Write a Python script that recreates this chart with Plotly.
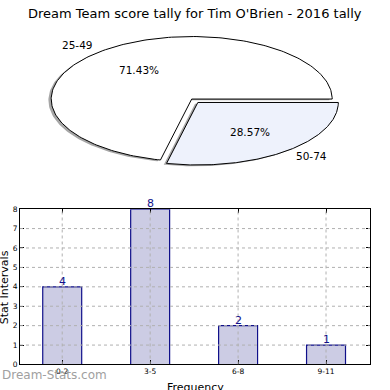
import numpy as np
import plotly.graph_objects as go

# ---------------- data ----------------
title_text = "Dream Team score tally for Tim O'Brien - 2016 tally"
pie_labels = ["25-49", "50-74"]
pie_values = [5, 2]
pie_colors = ["#ffffff", "#eef2fc"]
pie_explode = [0.0, 0.07]

bar_categories = ["0-2", "3-5", "6-8", "9-11"]
bar_values = [4, 8, 2, 1]
y_tick_values = [0, 1, 2, 3, 4, 5, 6, 7, 8]
y_title = "Stat Intervals"
x_title = "Frequency"
watermark = "Dream-Stats.com"

# ---------------- layout helpers ----------------
W = H = 390
FONT = "DejaVu Sans"
NAVY = "#10108a"


def px(x):
    return x / W


def py(y):
    return 1 - y / H


fig = go.Figure()

# ---------------- bar chart ----------------
bar_x = list(range(len(bar_categories)))
fig.add_trace(go.Bar(
    x=bar_x, y=bar_values, width=0.443,
    marker=dict(color="rgb(204,204,228)", line=dict(color=NAVY, width=1.2)),
    showlegend=False, hoverinfo="skip",
    xaxis="x", yaxis="y",
))

# dotted grid drawn above bars
grid = dict(color="#b0b0b0", width=1, dash="dot")
for yv in y_tick_values[1:-1]:
    fig.add_shape(type="line", xref="x", yref="y", x0=-0.48, x1=3.5, y0=yv, y1=yv,
                  line=grid, layer="above")
for xv in bar_x:
    fig.add_shape(type="line", xref="x", yref="y", x0=xv, x1=xv, y0=0, y1=8,
                  line=grid, layer="above")

# ---------------- pie (elliptical, matplotlib style) ----------------
cx, cy, rx, ry = 191.7, 97.3, 140.5, 64.0
total = sum(pie_values)
start = 0.0
shadow_dx, shadow_dy = -2.8, 1.3
slices = []
for lab, val, col, ex in zip(pie_labels, pie_values, pie_colors, pie_explode):
    frac = val / total
    a0, a1 = start, start + frac * 2 * np.pi
    mid = (a0 + a1) / 2
    ox, oy = ex * rx * np.cos(mid), -ex * ry * np.sin(mid)
    t = np.linspace(a0, a1, 200)
    xs = np.concatenate([[cx + ox], cx + ox + rx * np.cos(t), [cx + ox]])
    ys = np.concatenate([[cy + oy], cy + oy - ry * np.sin(t), [cy + oy]])
    slices.append((lab, frac, col, xs, ys, mid, ox, oy))
    start = a1

for lab, frac, col, xs, ys, mid, ox, oy in slices:
    fig.add_trace(go.Scatter(x=xs + shadow_dx, y=ys + shadow_dy, fill="toself",
                             fillcolor="rgba(77,77,77,0.5)", line=dict(width=0),
                             mode="lines", showlegend=False, hoverinfo="skip",
                             xaxis="x2", yaxis="y2"))
for lab, frac, col, xs, ys, mid, ox, oy in slices:
    fig.add_trace(go.Scatter(x=xs, y=ys, fill="toself", fillcolor=col,
                             line=dict(color="black", width=1),
                             mode="lines", showlegend=False, hoverinfo="skip",
                             xaxis="x2", yaxis="y2"))

annotations = []
for lab, frac, col, xs, ys, mid, ox, oy in slices:
    lx = cx + ox + 1.1 * rx * np.cos(mid)
    ly = cy + oy - 1.1 * ry * np.sin(mid)
    annotations.append(dict(x=px(lx), y=py(ly), xref="paper", yref="paper",
                            text=lab, showarrow=False,
                            xanchor="right" if np.cos(mid) < 0 else "left",
                            yanchor="middle",
                            font=dict(family=FONT, size=10.5, color="black")))
    tx = cx + ox + 0.6 * rx * np.cos(mid)
    ty = cy + oy - 0.6 * ry * np.sin(mid)
    annotations.append(dict(x=px(tx), y=py(ty), xref="paper", yref="paper",
                            text=f"{frac * 100:.2f}%", showarrow=False,
                            xanchor="center", yanchor="middle",
                            font=dict(family=FONT, size=10.5, color="black")))

# bar value labels sitting right on top of each bar
for xv, v in zip(bar_x, bar_values):
    annotations.append(dict(x=xv, y=v, xref="x", yref="y", text=str(v),
                            showarrow=False, xanchor="center", yanchor="bottom",
                            yshift=-3, font=dict(family=FONT, size=11, color=NAVY)))

annotations += [
    dict(x=px(195), y=py(10), xref="paper", yref="paper", text=title_text,
         showarrow=False, xanchor="center", yanchor="middle",
         font=dict(family=FONT, size=13, color="black")),
    dict(x=px(4), y=py(290), xref="paper", yref="paper", text=y_title,
         showarrow=False, xanchor="center", yanchor="middle", textangle=-90,
         font=dict(family=FONT, size=11, color="black")),
    dict(x=px(195), y=py(384), xref="paper", yref="paper", text=x_title,
         showarrow=False, xanchor="center", yanchor="top",
         font=dict(family=FONT, size=11, color="black")),
    dict(x=px(0), y=py(380), xref="paper", yref="paper", text=watermark,
         showarrow=False, xanchor="left", yanchor="middle",
         font=dict(family=FONT, size=12, color="#a0a0a0")),
]

fig.update_layout(
    width=W, height=H, autosize=False,
    margin=dict(l=0, r=0, t=0, b=0, pad=0),
    paper_bgcolor="white", plot_bgcolor="rgba(0,0,0,0)",
    showlegend=False,
    annotations=annotations,
    xaxis=dict(domain=[px(20), px(370)], range=[-0.48, 3.5],
               tickvals=bar_x, ticktext=bar_categories,
               ticks="inside", ticklen=4, tickcolor="black", mirror="allticks",
               showline=True, linecolor="black", linewidth=1, showgrid=False,
               zeroline=False, tickfont=dict(family=FONT, size=7.5, color="black"),
               fixedrange=True),
    yaxis=dict(domain=[py(369), py(210)], range=[0, 8],
               tickvals=y_tick_values, ticktext=[str(v) for v in y_tick_values],
               ticks="inside", ticklen=4, tickcolor="black", mirror="allticks",
               showline=True, linecolor="black", linewidth=1, showgrid=False,
               zeroline=False, tickfont=dict(family=FONT, size=7.5, color="black"),
               fixedrange=True),
    xaxis2=dict(domain=[0, 1], range=[0, W], visible=False, fixedrange=True,
                anchor="y2"),
    yaxis2=dict(domain=[0, 1], range=[H, 0], visible=False, fixedrange=True,
                anchor="x2"),
)

fig.write_html(
    "out.html",
    config={"displayModeBar": False},
    post_script="document.body.style.margin='0px';document.body.style.overflow='hidden';",
)
